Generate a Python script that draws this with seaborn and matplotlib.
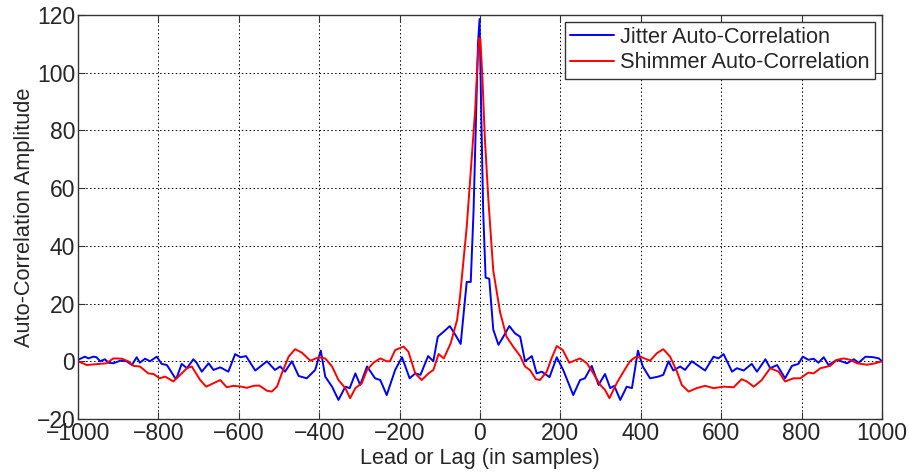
import numpy as np
import pandas as pd
import seaborn as sns
import matplotlib.pyplot as plt

# values
jitter_lag = [-1000, -983, -974, -962, -954, -945, -933, -924, -912, -895, -879, -866, -854, -846,
              -833, -821, -804, -792, -779, -771, -758, -754, -742, -729, -713, -705, -692, -675,
              -663, -646, -626, -609, -596, -582, -559, -530, -510, -497, -485, -468, -451, -431,
              -410, -396, -385, -368, -352, -335, -324, -310, -298, -281, -261, -248, -232, -211,
              -194, -175, -161, -148, -129, -116, -105, -90, -75, -61, -48, -33, -23, -16, -10,
              -5, -1, 3, 8, 14, 23, 33, 46, 58, 73, 87, 100, 112, 129, 141, 154, 173, 191, 207,
              232, 249, 261, 278, 295, 311, 324, 334, 349, 365, 378, 393, 405, 423, 444, 456,
              469, 481, 498, 510, 527, 560, 581, 593, 606, 627, 639, 656, 676, 689, 710, 722,
              739, 759, 776, 792, 803, 817, 830, 842, 855, 867, 888, 913, 930, 942, 959, 979,
              992, 1000]
jitter_val = [0.5, 1.6, 1.0, 1.6, 1.4, 0.0, 0.7, -0.5, -0.7, 0.2, 0.0, -1.3, 1.4, -0.5,
              0.9, 0.0, 1.6, -0.9, -1.3, -3.0, -5.9, -5.5, -0.9, -2.4, 0.7, -0.5, -3.6, -0.7,
              -3.0, -2.1, -3.6, 2.5, 1.4, 1.8, -3.2, 0.0, -3.0, -1.8, -3.6, 0.0, -5.1, -5.9,
              -3.0, 3.7, -5.3, -8.8, -13.4, -8.8, -9.3, -4.2, -8.2, -1.8, -5.9, -6.5, -11.7, -3.0,
              1.4, -5.9, -4.2, -4.7, 1.8, 0.0, 8.5, 10.3, 12.2, 9.1, 6.0, 27.5, 27.5, 52, 83,
              110, 118.6, 87, 52, 29, 28.6, 11, 5.7, 8.5, 12.2, 9.7, 8.5, 0.0, 1.8, -4.2, -3.6, -5.5, 1.4, -3.0,
              -11.7, -6.5, -5.9, -1.6, -8.2, -4.4, -9.3, -8.5, -13.4, -8.8, -9.3, 3.7, -1.8, -5.9, -5.3, -4.7,
              0.0, -3.2, -1.8, -3.0, 0.0, -3.2, 1.6, 1.0, 2.5, -3.6, -2.4, -3.2, -0.9, -3.6, 0.7, -2.4,
              -1.3, -5.9, -1.6, -0.9, 1.6, 0.5, 0.9, -0.5, 1.4, -1.3, 0.5, -0.7, 0.7, -0.5, 1.6, 1.4,
              1.0, 0.0]

shimmer_lag = [-1000, -978, -954, -929, -912, -891, -875, -862, -846, -825, -812, -797, -783, -763,
               -750, -729, -717, -696, -681, -663, -646, -630, -613, -593, -580, -563, -549, -530,
               -518, -505, -493, -476, -460, -443, -422, -401, -385, -368, -352, -335, -323, -310,
               -294, -281, -265, -248, -232, -224, -211, -190, -178, -161, -145, -128, -116, -103,
               -90, -73, -57, -50, -33, -21, -12, -6, -2, 1, 6, 12, 21, 33, 50, 66, 83, 100, 112,
               124, 139, 149, 166, 178, 191, 206, 222, 249, 266, 282, 299, 311, 322, 340, 357,
               373, 386, 402, 423, 440, 456, 473, 490, 502, 519, 539, 560, 581, 606, 631, 651,
               664, 681, 701, 722, 743, 759, 780, 797, 817, 830, 847, 871, 888, 905, 921, 938,
               963, 983, 1000]
shimmer_val = [0.0, -1.3, -1.0, -0.7, 1.0, 0.9, 0.0, -1.6, -1.8, -4.2, -4.4, -5.9, -5.3, -7.0,
               -5.3, -2.4, -1.8, -6.5, -8.8, -7.6, -6.5, -9.0, -8.5, -8.8, -9.2, -8.5, -8.4, -10.2,
               -10.5, -8.8, -4.2, 1.6, 4.2, 3.0, 0.2, 1.4, 1.0, -1.8, -6.5, -9.3, -12.8, -9.3,
               -7.6, -3.0, -0.5, 1.0, 0.0, 0.0, 3.9, 5.1, 3.3, -4.2, -6.5, -4.2, -3.0, 2.5,
               1.0, 6.2, 14.3, 22, 46.5, 69.6, 87, 104, 112, 111.7, 98.5, 77.7, 55.7, 31.5, 17, 8.5, 5.0, 1.8, -1.8,
               -3.0, -6.2, -6.5, -3.6, 1.0, 5.3, 3.9, -0.5, 1.0, -0.7, -4.2, -8.2, -9.9, -12.8, -7.6, -3.6,
               0.0, 1.4, 1.4, 0.2, 2.8, 4.2, 1.6, -3.6, -8.2, -10.5, -9.3, -8.5, -9.3, -8.8, -9.0, -6.2,
               -7.0, -8.8, -6.5, -2.4, -3.6, -7.0, -5.9, -5.9, -3.9, -4.2, -2.4, -1.6, 0.5, 1.0, 0.5, -0.7,
               -1.2, -0.7, 0.0]

xticks = list(range(-1000, 1001, 200))
yticks = list(range(-20, 121, 20))

df = pd.concat([
    pd.DataFrame({'lag': jitter_lag, 'amp': jitter_val, 'series': 'Jitter Auto-Correlation'}),
    pd.DataFrame({'lag': shimmer_lag, 'amp': shimmer_val, 'series': 'Shimmer Auto-Correlation'}),
])

sns.set_style('ticks')
plt.rcParams['font.family'] = ['Liberation Sans', 'DejaVu Sans']

fig = plt.figure(figsize=(9.1, 4.72), dpi=100)
ax = fig.add_axes([0.0857, 0.1123, 0.8835, 0.8559])

sns.lineplot(data=df, x='lag', y='amp', hue='series', sort=False,
             palette=['#0000ff', '#ff0000'], linewidth=1.4, ax=ax)

ax.set_xlim(-1000, 1000)
ax.set_ylim(-20, 120)
ax.set_xticks(xticks)
ax.set_yticks(yticks)
ax.grid(True, color='black', linestyle=(0, (1.5, 2.5)), linewidth=0.7)
for s in ax.spines.values():
    s.set_color('#333333')
    s.set_linewidth(1.0)
    s.set_visible(True)
ax.tick_params(direction='in', top=True, right=True, length=5, labelsize=16.5,
               color='#333333', pad=2)
ax.set_xlabel('Lead or Lag (in samples)', fontsize=15.7, labelpad=2)
ax.set_ylabel('Auto-Correlation Amplitude', fontsize=15.7, labelpad=1)

leg = ax.legend(loc='upper right', fontsize=15.7, frameon=True, fancybox=False,
                edgecolor='#333333', framealpha=1, borderaxespad=0.3,
                handlelength=2.0, borderpad=0.25, labelspacing=0.2, handletextpad=0.3)
leg.get_frame().set_linewidth(1.0)

fig.savefig('out.png', dpi=100)
